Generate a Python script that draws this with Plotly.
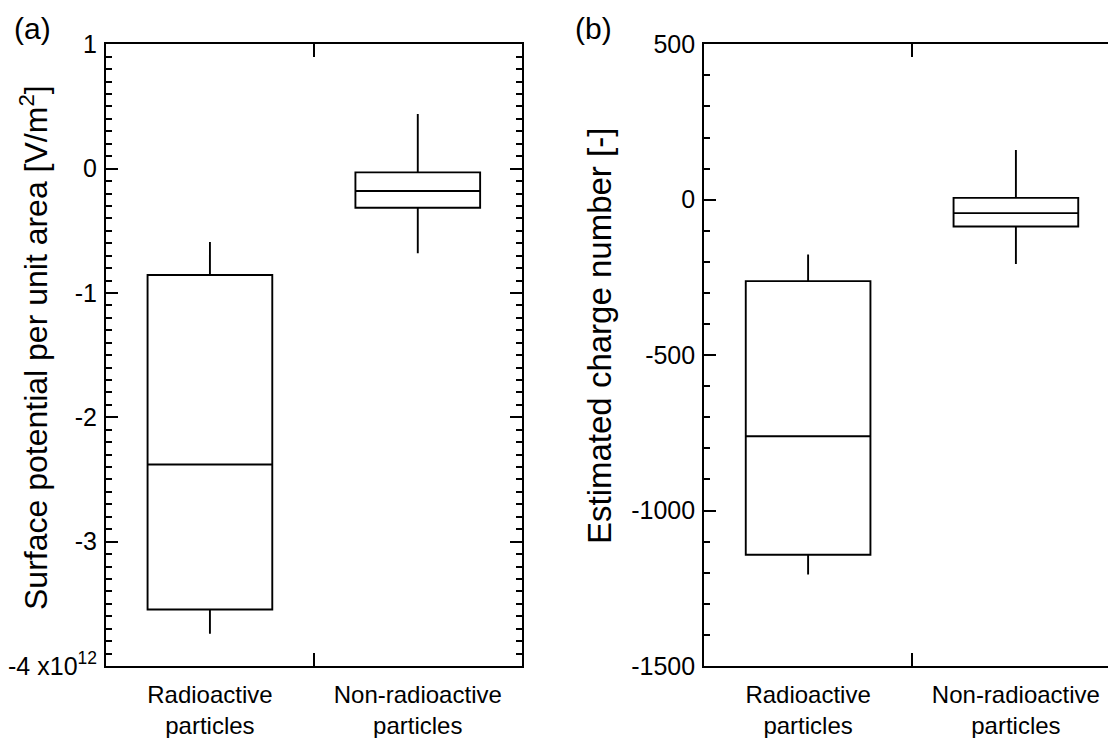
import plotly.graph_objects as go

# ---- data ----
categories = ["Radioactive<br>particles", "Non-radioactive<br>particles"]

# (a) surface potential per unit area, in units of 1e12 V/m^2
pot_lower = [-3.74, -0.68]
pot_q1 = [-3.545, -0.315]
pot_median = [-2.38, -0.18]
pot_q3 = [-0.855, -0.03]
pot_upper = [-0.59, 0.44]

pot_tickvals = [-4, -3, -2, -1, 0, 1]
pot_ticktext = ["-4 x10<sup>12</sup>", "-3", "-2", "-1", "0", "1"]

# (b) estimated charge number
chg_lower = [-1206, -207]
chg_q1 = [-1142, -86]
chg_median = [-761, -43]
chg_q3 = [-262, 6]
chg_upper = [-176, 160]

chg_tickvals = [-1500, -1000, -500, 0, 500]
chg_ticktext = ["-1500", "-1000", "-500", "0", "500"]

W, H = 1116, 738
OFF = 8  # page body margin: screen = paper + 8
FONT = "Liberation Sans, Arial, sans-serif"


def px_x(p):
    return (p - OFF) / W


def px_y(p):
    return 1 - (p - OFF) / H


fig = go.Figure()

box_style = dict(
    fillcolor="white",
    line=dict(color="black", width=1.9),
    whiskerwidth=0,
    width=0.6,
    boxpoints=False,
    showlegend=False,
    hoverinfo="skip",
)

fig.add_trace(go.Box(
    x=categories, q1=pot_q1, median=pot_median, q3=pot_q3,
    lowerfence=pot_lower, upperfence=pot_upper,
    xaxis="x", yaxis="y", **box_style))

fig.add_trace(go.Box(
    x=categories, q1=chg_q1, median=chg_median, q3=chg_q3,
    lowerfence=chg_lower, upperfence=chg_upper,
    xaxis="x2", yaxis="y2", **box_style))

xcommon = dict(
    type="category",
    categoryorder="array",
    categoryarray=categories,
    range=[-0.5, 1.5],
    showline=True, linecolor="black", linewidth=2,
    mirror="ticks",
    ticks="inside", ticklen=13, tickwidth=1.8, tickcolor="black",
    tickson="boundaries",
    ticklabelstandoff=6,
    showgrid=False, zeroline=False,
    tickfont=dict(family=FONT, size=24, color="black"),
    automargin=False,
    fixedrange=True,
)

ycommon = dict(
    showline=True, linecolor="black", linewidth=2,
    mirror="allticks",
    ticks="inside", ticklen=12, tickwidth=1.8, tickcolor="black",
    ticklabelstandoff=2,
    showgrid=False, zeroline=False,
    tickfont=dict(family=FONT, size=25, color="black"),
    automargin=False,
    fixedrange=True,
)

ybot, ytop = px_y(666), px_y(44.3)

ann_common = dict(xref="paper", yref="paper", showarrow=False,
                  xanchor="center", yanchor="middle")

fig.update_layout(
    width=W, height=H,
    margin=dict(l=0, r=0, t=0, b=0, pad=0),
    paper_bgcolor="white", plot_bgcolor="white",
    xaxis=dict(domain=[px_x(106), px_x(521.7)], anchor="y", **xcommon),
    yaxis=dict(domain=[ybot, ytop], anchor="x", range=[-4, 1],
               tickmode="array", tickvals=pot_tickvals, ticktext=pot_ticktext,
               minor=dict(dtick=0.1, tick0=0, ticks="inside", ticklen=6,
                          tickwidth=1.6, tickcolor="black", showgrid=False),
               **ycommon),
    xaxis2=dict(domain=[px_x(704.2), px_x(1119.8)], anchor="y2", **xcommon),
    yaxis2=dict(domain=[ybot, ytop], anchor="x2", range=[-1500, 500],
                tickmode="array", tickvals=chg_tickvals, ticktext=chg_ticktext,
                minor=dict(dtick=100, tick0=0, ticks="inside", ticklen=6,
                           tickwidth=1.6, tickcolor="black", showgrid=False),
                **ycommon),
    annotations=[
        dict(text="(a)", x=px_x(32), y=px_y(28),
             font=dict(family=FONT, size=30, color="black"), **ann_common),
        dict(text="(b)", x=px_x(593), y=px_y(28),
             font=dict(family=FONT, size=30, color="black"), **ann_common),
        dict(text="Surface potential per unit area [V/m<sup>2</sup>]",
             x=px_x(34), y=px_y(348), textangle=-90,
             font=dict(family=FONT, size=32, color="black"), **ann_common),
        dict(text="Estimated charge number [-]",
             x=px_x(599), y=px_y(336), textangle=-90,
             font=dict(family=FONT, size=33, color="black"), **ann_common),
    ],
)

fig.write_html("out.html")
